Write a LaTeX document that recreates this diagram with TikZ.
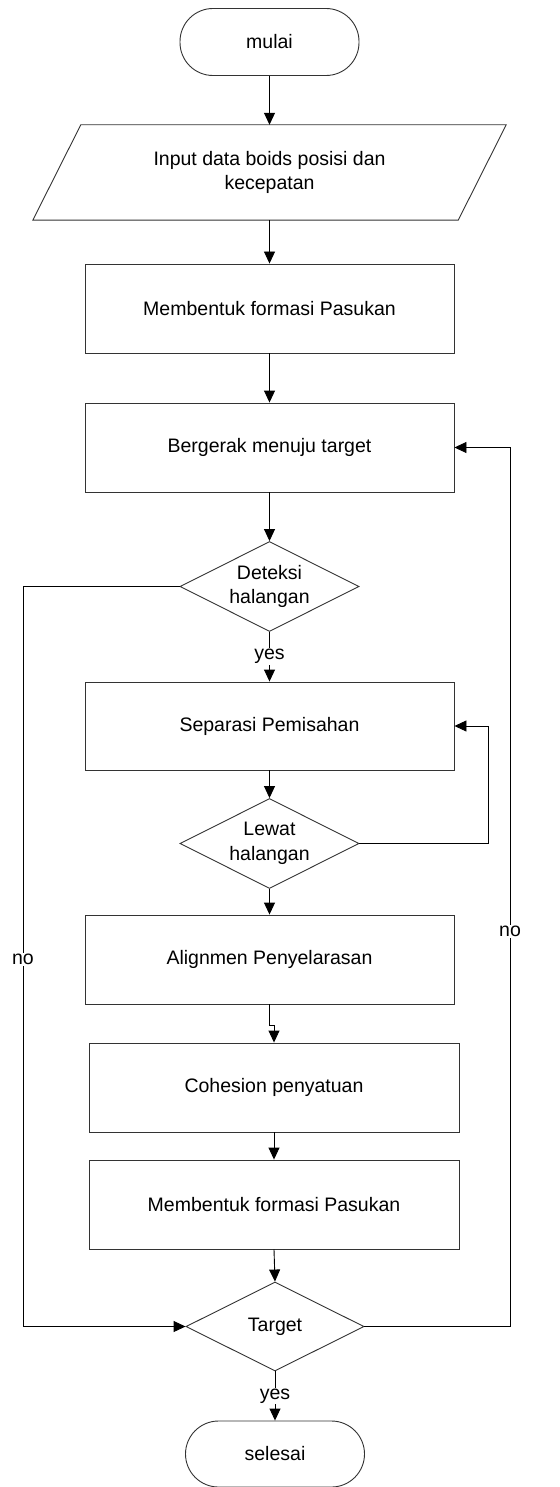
\documentclass[tikz,border=0pt]{standalone}
\usepackage{fontspec}
\setmainfont{Liberation Sans}
\usetikzlibrary{shapes.geometric,arrows.meta}
\begin{document}
\begin{tikzpicture}[x=1pt,y=-1pt,
  font=\fontsize{19.5}{24.5}\selectfont,
  shp/.style={draw=black!80, line width=0.9pt},
  procbox/.style={shp, rectangle, minimum width=369pt, minimum height=89pt, inner sep=0pt, align=center},
  term/.style={shp, rectangle, rounded corners=33pt, minimum width=179pt, minimum height=67pt, inner sep=0pt},
  decis/.style={shp, diamond, aspect=2, minimum width=179pt, minimum height=90pt, inner sep=0pt, align=center},
  flow/.style={draw=black, line width=0.9pt, -{Triangle[length=12pt,width=11pt]}},
  lbl/.style={fill=white, inner sep=1pt}]
\useasboundingbox (0,0) rectangle (559,1487);

% nodes
\node[term] (start) at (269.5,42) {mulai};
\node[minimum width=425pt, minimum height=95pt, inner sep=0pt, align=center] (inp) at (269.5,172.5) {Input data boids posisi dan\\kecepatan};
\draw[shp] ([xshift=24pt]inp.north west) -- ([xshift=24pt]inp.north east) -- ([xshift=-24pt]inp.south east) -- ([xshift=-24pt]inp.south west) -- cycle;
\node[procbox] (form1) at (269.5,308.5) {Membentuk formasi Pasukan};
\node[procbox] (move) at (269.5,447.5) {Bergerak menuju target};
\node[decis] (det) at (269.5,586.5) {Deteksi\\halangan};
\node[procbox, minimum height=88pt] (sep) at (269.5,726) {Separasi Pemisahan};
\node[decis] (lew) at (269.5,843.5) {Lewat\\halangan};
\node[procbox] (ali) at (269.5,959.5) {Alignmen Penyelarasan};
\node[procbox, minimum width=370pt] (coh) at (274,1087.5) {Cohesion penyatuan};
\node[procbox, minimum width=370pt] (form2) at (274,1204.5) {Membentuk formasi Pasukan};
\node[decis, minimum width=178pt, minimum height=89pt] (tgt) at (275,1326.5) {Target};
\node[term, minimum height=66pt] (end) at (275,1454) {selesai};

% helper coordinates
\coordinate (lt) at (23,586.5);
\coordinate (lb) at (23,1326.5);
\coordinate (rb) at (510,1326.5);
\coordinate (rt) at (510,447.5);
\coordinate (lr) at (488,843.5);
\coordinate (aj) at (269.5,1025);

% connectors
\draw[flow] (start) -- (inp);
\draw[flow] (inp.south) -- (form1.north);
\draw[flow] (form1) -- (move);
\draw[flow] (move) -- (det);
\draw[flow] (det.south) -- node[lbl]{yes} (sep.north);
\draw[flow] (sep) -- (lew);
\draw[flow] (lew.east) -- (lr) |- (sep.east);
\draw[flow] (lew) -- (ali);
\draw[flow] (ali.south) -- (aj) -| (coh.north);
\draw[flow] (coh) -- (form2);
\draw[flow] (form2.south) -- (tgt.north);
\draw[flow] (det.west) -- (lt) -- node[lbl, pos=0.504]{no} (lb) -- (tgt.west);
\draw[flow] (tgt.east) -- (rb) -- node[lbl, pos=0.449]{no} (rt) -- (move.east);
\draw[flow] (tgt.south) -- node[lbl]{yes} (end.north);
\end{tikzpicture}
\end{document}
